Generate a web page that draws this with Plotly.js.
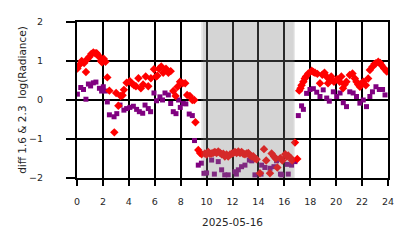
<!DOCTYPE html>
<html>
<head>
<meta charset="utf-8">
<script src="https://cdn.plot.ly/plotly-3.0.1.min.js"></script>
<style>html,body{margin:0;padding:0;background:#fff}#chart{width:414px;height:248px}</style>
</head>
<body>
<div id="chart"></div>
<script>
// Red series (diff 1.6 µm) – hour of day and value
const redHours = [0.03,0.18,0.36,0.55,0.69,0.8,0.95,1.1,1.26,1.4,1.52,1.62,1.73,1.85,1.93,2.06,2.2,2.34,2.5,2.88,3.02,3.19,3.37,3.52,3.62,3.83,4.08,4.25,4.4,4.55,4.74,4.93,5.1,5.3,5.5,5.7,5.94,6.1,6.2,6.33,6.5,6.65,6.87,7.05,7.23,7.43,7.61,7.76,7.95,8.15,8.35,8.5,8.71,8.9,9.05,9.14,9.36,9.5,
  9.62,9.87,10.0,10.13,10.26,10.39,10.52,10.64,10.77,10.9,11.03,11.16,11.29,11.41,11.54,11.67,11.8,11.93,12.06,12.19,12.32,12.45,12.58,12.7,12.83,12.96,13.09,13.22,13.35,13.48,13.6,13.73,13.86,14.12,14.43,14.6,14.89,15.02,15.2,15.33,15.46,15.69,15.85,16.07,16.2,16.3,16.5,16.6,16.82,17.0,
  17.15,17.25,17.33,17.47,17.58,17.67,17.85,18.11,18.24,18.37,18.55,18.75,18.93,19.1,19.25,19.37,19.5,19.62,19.83,20.07,20.27,20.4,20.53,20.65,20.79,21.05,21.26,21.44,21.57,21.7,21.83,21.95,22.09,22.29,22.47,22.6,22.8,22.95,23.07,23.25,23.4,23.5,23.7,23.9];
const redValues = [0.81,0.9,1.0,0.95,0.72,1.05,1.1,1.18,1.22,1.2,1.2,1.15,1.1,1.0,0.97,1.06,0.98,0.58,0.24,-0.83,0.18,-0.15,0.1,0.12,0.26,0.44,0.48,0.42,0.38,0.35,0.56,0.3,0.4,0.6,0.35,0.56,0.79,0.6,0.62,0.8,0.86,0.7,0.8,0.7,0.74,0.23,0.1,0.34,0.47,0.43,0.43,0.13,0.1,0.0,0.0,-0.57,-1.28,-1.36,
  -1.39,-1.37,-1.4,-1.33,-1.38,-1.37,-1.35,-1.33,-1.36,-1.32,-1.35,-1.39,-1.38,-1.45,-1.4,-1.45,-1.4,-1.38,-1.36,-1.33,-1.36,-1.32,-1.36,-1.33,-1.38,-1.39,-1.37,-1.36,-1.42,-1.45,-1.44,-1.5,-1.52,-1.88,-1.26,-1.55,-1.88,-1.37,-1.45,-1.5,-1.73,-1.49,-1.55,-1.39,-1.45,-1.42,-1.49,-1.55,-1.09,-1.51,
  0.24,0.3,0.38,0.47,0.55,0.6,0.68,0.75,0.72,0.7,0.67,0.43,0.65,0.7,0.6,0.43,0.52,0.6,0.47,0.53,0.47,0.6,0.3,0.4,0.47,0.64,0.68,0.55,0.47,0.4,0.34,0.42,0.47,0.38,0.55,0.77,0.85,0.92,0.94,0.98,0.95,0.89,0.81,0.73];

// Purple series (diff 2.3 µm)
const purpleHours = [0.03,0.29,0.5,0.69,0.88,1.05,1.26,1.46,1.73,1.9,2.03,2.18,2.34,2.5,2.86,3.07,3.32,3.62,3.83,4.08,4.35,4.6,4.81,5.07,5.25,5.5,5.68,5.94,6.14,6.4,6.6,6.79,7.05,7.23,7.43,7.64,7.84,7.97,8.2,8.4,8.66,8.9,9.07,9.36,
  9.6,9.8,10.0,10.39,10.6,10.9,11.16,11.4,11.67,12.19,12.3,12.45,12.7,12.96,13.3,13.48,13.73,14.2,14.25,14.5,14.9,15.2,15.4,15.7,15.8,16.23,16.3,16.56,16.82,
  17.08,17.33,17.47,17.72,17.98,18.24,18.5,18.75,19.0,19.27,19.47,19.78,20.04,20.3,20.55,20.8,21.05,21.31,21.57,21.83,22.09,22.34,22.6,22.8,23.07,23.33,23.58,23.77];
const purpleValues = [0.15,0.32,0.27,0.02,0.41,0.36,0.44,0.46,0.3,0.23,0.34,0.23,-0.05,-0.38,-0.43,-0.35,-0.13,-0.26,-0.22,-0.19,-0.16,-0.24,-0.3,-0.34,-0.13,-0.22,-0.3,0.18,-0.02,0.08,0.0,0.18,0.13,-0.09,-0.3,-0.35,0.0,-0.19,-0.09,-0.1,-0.36,-0.4,-1.04,-1.67,
  -1.62,-1.88,-1.87,-1.54,-1.9,-1.58,-1.79,-1.92,-1.92,-1.84,-1.9,-1.79,-1.71,-1.67,-1.54,-1.56,-1.92,-1.9,-1.67,-1.73,-1.75,-1.71,-1.56,-1.9,-1.92,-1.65,-1.9,-1.67,-1.58,
  -0.4,-0.15,-0.24,0.17,0.27,0.29,0.2,0.09,0.26,0.05,-0.03,0.21,0.09,0.18,-0.07,-0.17,0.21,0.18,0.09,-0.08,0.0,-0.17,0.09,0.21,0.34,0.27,0.27,0.13];

// Shaded (night) interval in hours
const shadeStart = [9.58, 9.72];
const shadeEnd = [16.72, 16.82];

const xTicks = [0,2,4,6,8,10,12,14,16,18,20,22,24];
const yTicks = [-2,-1,0,1,2];
const xRange = [0, 24];
const yRange = [-2, 2];

const font = {family: 'DejaVu Sans', color: '#262626'};

const traces = [
  {x: purpleHours, y: purpleValues, mode: 'markers', type: 'scatter',
   marker: {symbol: 'square', size: 5, color: '#800080', line: {width: 0}}},
  {x: redHours, y: redValues, mode: 'markers', type: 'scatter',
   marker: {symbol: 'diamond', size: 6.5, color: '#ff0000', line: {width: 0}}},
  // empty traces that only carry the tick-mark axes
  {x: [], y: [], type: 'scatter', mode: 'markers', xaxis: 'x2', yaxis: 'y', hoverinfo: 'skip'},
  {x: [], y: [], type: 'scatter', mode: 'markers', xaxis: 'x', yaxis: 'y2', hoverinfo: 'skip'}
];

const shapes = shadeStart.map((s, i) => ({
  type: 'rect', xref: 'x', yref: 'paper', x0: s, x1: shadeEnd[i], y0: 0, y1: 1,
  fillcolor: 'rgba(128,128,128,0.18)', line: {width: 0}, layer: 'above'
}));

const layout = {
  width: 414, height: 248,
  margin: {l: 77, r: 26, t: 22, b: 70},
  paper_bgcolor: '#ffffff', plot_bgcolor: '#ffffff',
  showlegend: false,
  font: Object.assign({size: 9}, font),
  shapes: shapes,
  xaxis: {
    range: xRange, tickmode: 'array', tickvals: xTicks, ticktext: xTicks.map(String),
    showgrid: true, gridcolor: '#000000', gridwidth: 2,
    showline: true, linecolor: '#000000', linewidth: 2, mirror: true,
    zeroline: false,
    ticks: 'outside', ticklen: 14, tickwidth: 2, tickcolor: 'rgba(0,0,0,0)',
    tickfont: Object.assign({size: 9.5}, font),
    title: {text: '2025-05-16', font: Object.assign({size: 10.5}, font), standoff: 12}
  },
  xaxis2: {
    overlaying: 'x', anchor: 'y', side: 'bottom', range: xRange,
    tickmode: 'array', tickvals: xTicks, showticklabels: false,
    showgrid: false, zeroline: false, showline: false,
    ticks: 'outside', ticklen: 7, tickwidth: 2, tickcolor: '#000000'
  },
  yaxis: {
    range: yRange, tickmode: 'array', tickvals: yTicks,
    ticktext: yTicks.map(v => (v < 0 ? '\u2212' + Math.abs(v) : String(v)) + '\u00a0\u00a0\u00a0\u00a0'),
    showgrid: true, gridcolor: '#000000', gridwidth: 2,
    showline: true, linecolor: '#000000', linewidth: 2, mirror: true,
    zeroline: false,
    ticks: 'outside', ticklen: 18, tickwidth: 2, tickcolor: 'rgba(0,0,0,0)',
    tickfont: Object.assign({size: 9.5}, font),
    title: {text: 'diff 1.6 &amp; 2.3\u00a0\u00a0log(Radiance)', font: Object.assign({size: 10.5}, font), standoff: 0}
  },
  yaxis2: {
    overlaying: 'y', anchor: 'x', side: 'left', range: yRange,
    tickmode: 'array', tickvals: yTicks, showticklabels: false,
    showgrid: false, zeroline: false, showline: false,
    ticks: 'outside', ticklen: 10, tickwidth: 2, tickcolor: '#000000'
  }
};

Plotly.newPlot('chart', traces, layout, {staticPlot: true, displayModeBar: false});
</script>
</body>
</html>
